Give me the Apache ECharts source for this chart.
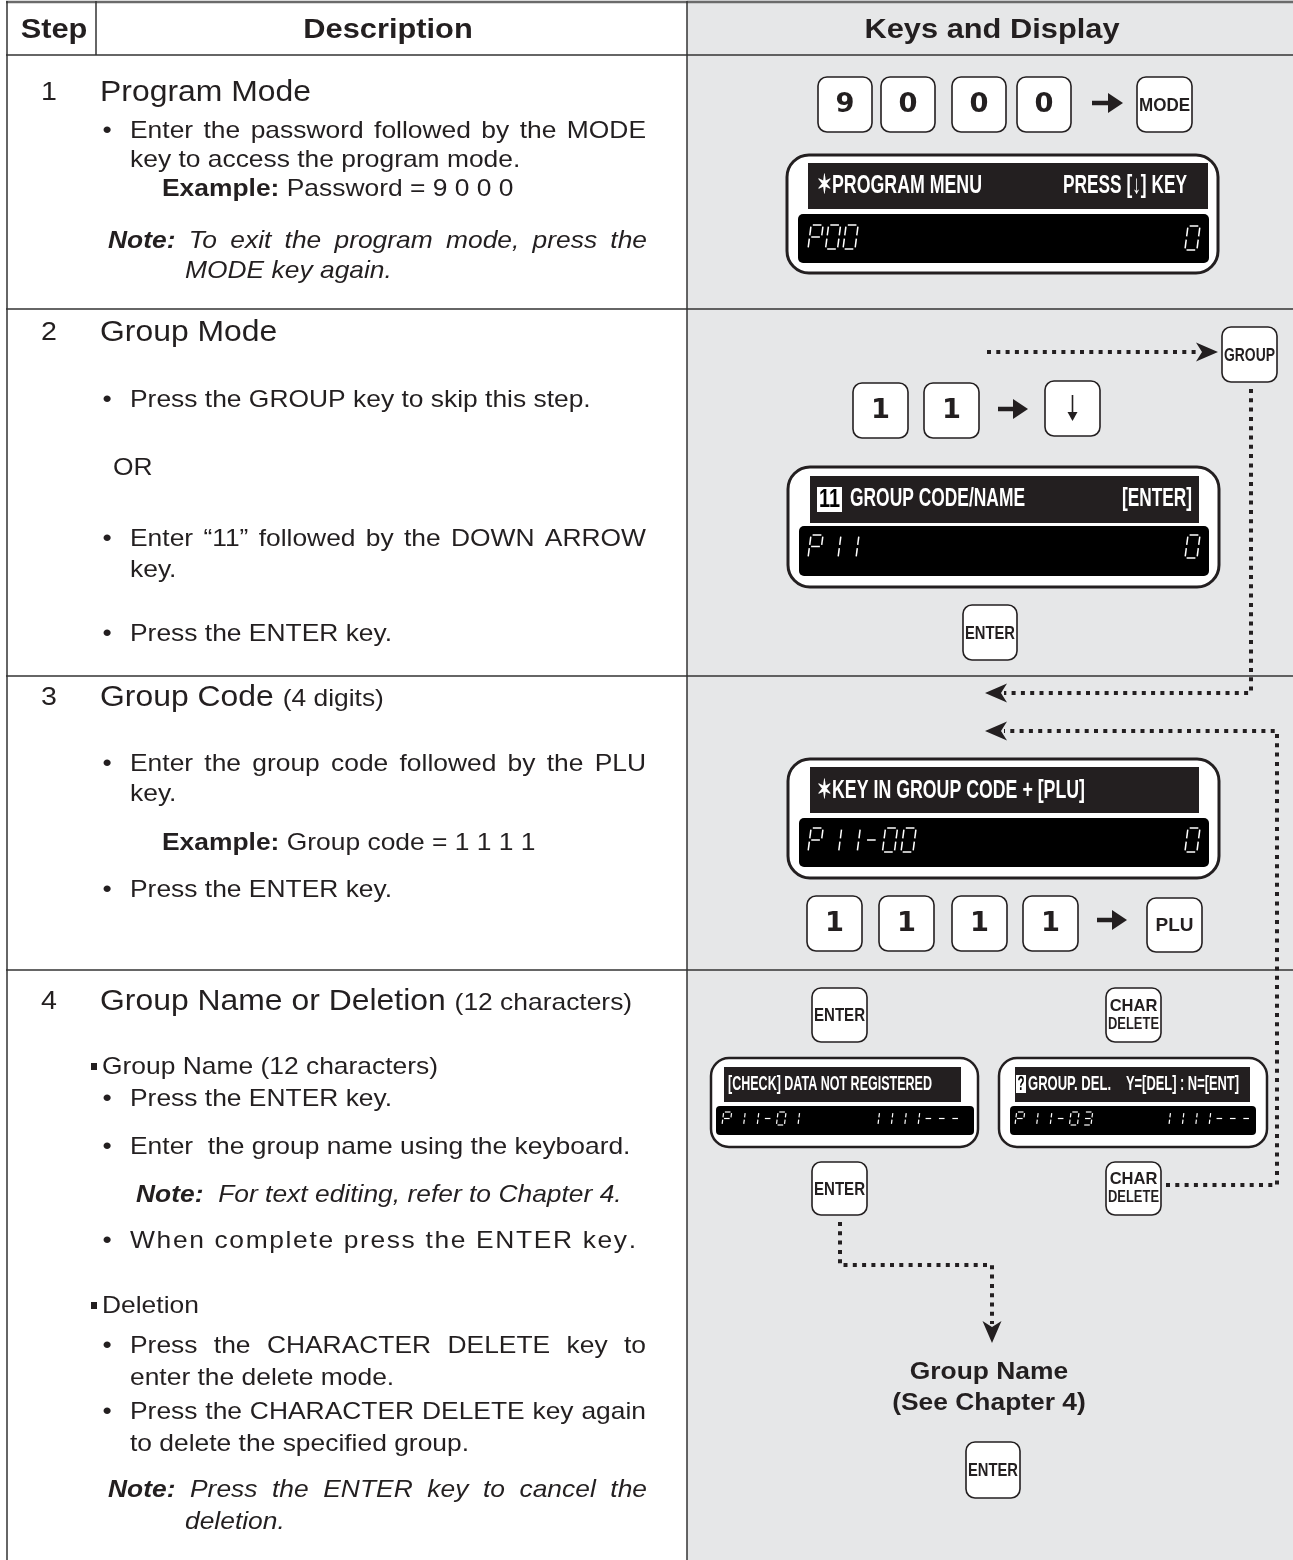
<!DOCTYPE html>
<html><head><meta charset="utf-8">
<script src="https://cdn.jsdelivr.net/npm/echarts@6/dist/echarts.min.js"></script>
<style>html,body{margin:0;padding:0;background:#fff}#c{width:1293px;height:1560px}</style>
</head><body><div id="c"></div>
<script>
// ---------------- DATA (text content) ----------------
const headers = ['Step', 'Description', 'Keys and Display'];
const stepNumbers = ['1', '2', '3', '4'];
const stepTitles = ['Program Mode', 'Group Mode', 'Group Code', 'Group Name or Deletion'];
const stepTitleNotes = ['', '', '(4 digits)', '(12 characters)'];
const step1Desc = ['Enter the password followed by the MODE', 'key to access the program mode.', 'Example:|Password = 9 0 0 0', 'Note:|To exit the program mode, press the', 'MODE key again.'];
const step2Desc = ['Press the GROUP key to skip this step.', 'OR', 'Enter \u201c11\u201d followed by the DOWN ARROW', 'key.', 'Press the ENTER key.'];
const step3Desc = ['Enter the group code followed by the PLU', 'key.', 'Example:|Group code = 1 1 1 1', 'Press the ENTER key.'];
const step4Desc = ['Group Name (12 characters)', 'Press the ENTER key.', 'Enter  the group name using the keyboard.', 'Note:|For text editing, refer to Chapter 4.', 'When complete press the ENTER key.', 'Deletion', 'Press the CHARACTER DELETE key to', 'enter the delete mode.', 'Press the CHARACTER DELETE key again', 'to delete the specified group.', 'Note:|Press the ENTER key to cancel the', 'deletion.'];

const keysStep1 = ['9', '0', '0', '0', 'MODE'];
const display1Top = ['\u2736PROGRAM MENU', 'PRESS [\u2193] KEY'];
const display1Seg = ['P00', '0'];
const keyStep2Skip = 'GROUP';
const keysStep2 = ['1', '1', '\u2193'];
const display2Top = ['11', 'GROUP CODE/NAME', '[ENTER]'];
const display2Seg = ['P11', '0'];
const keyStep2Enter = 'ENTER';
const display3Top = ['\u2736KEY IN GROUP CODE + [PLU]'];
const display3Seg = ['P11-00', '0'];
const keysStep3 = ['1', '1', '1', '1', 'PLU'];
const keysStep4 = ['ENTER', 'CHAR\nDELETE', 'ENTER', 'CHAR\nDELETE', 'ENTER'];
const display4aTop = ['[CHECK] DATA NOT REGISTERED'];
const display4aSeg = ['P11-01', '1111---'];
const display4bTop = ['?', 'GROUP. DEL.', 'Y=[DEL] : N=[ENT]'];
const display4bSeg = ['P11-03', '1111---'];
const groupNameLabel = ['Group Name', '(See Chapter 4)'];

// ---------------- LAYOUT / DRAWING ----------------
const INK = '#231f20';
const GRAY = '#e6e7e8';
const BODY = '"Liberation Sans", Arial, Helvetica, sans-serif';
const SX = 1.1;
const els = [];
const cv = document.createElement('canvas').getContext('2d');
function measure(t, size, weight, style, fam) {
  cv.font = (style || 'normal') + ' ' + (weight || 'normal') + ' ' + size + 'px ' + (fam || BODY);
  return cv.measureText(t).width;
}
function T(t, x, y, o) {
  o = o || {};
  const al = o.align || 'left';
  els.push({
    type: 'text', x: x, y: y, scaleX: o.sx || 1, silent: true, z: o.z || 10,
    style: { text: t, x: 0, y: 0, fill: o.fill || INK, fontSize: o.size || 24,
      fontFamily: o.fam || BODY, fontWeight: o.weight || 'normal', fontStyle: o.style || 'normal',
      textAlign: al, align: al, textVerticalAlign: 'middle', verticalAlign: 'middle' }
  });
}
function fit(t, x1, x2, y, o) {
  o = Object.assign({ size: 26, weight: 'bold' }, o || {});
  const w = measure(t, o.size, o.weight, o.style, o.fam);
  o.sx = (x2 - x1) / w;
  T(t, x1, y, o);
}
function rect(x, y, w, h, o) {
  els.push({ type: 'rect', silent: true, z: o.z || 1, shape: { x: x, y: y, width: w, height: h, r: o.r || 0 },
    style: { fill: o.fill || 'none', stroke: o.stroke || null, lineWidth: o.lw || 0 } });
}
function ln(x1, y1, x2, y2, o) {
  els.push({ type: 'line', silent: true, z: o.z || 2, shape: { x1: x1, y1: y1, x2: x2, y2: y2 },
    style: { stroke: o.stroke || INK, lineWidth: o.lw || 1.5 } });
}
function poly(points, o) {
  els.push({ type: 'polygon', silent: true, z: (o && o.z) || 6, shape: { points: points }, style: { fill: (o && o.fill) || INK } });
}
function pline(points, o) {
  els.push({ type: 'polyline', silent: true, z: o.z || 5, shape: { points: points },
    style: { stroke: o.stroke || INK, lineWidth: o.lw || 4, lineDash: o.dash || null, fill: null } });
}

// table
rect(687, 0, 606, 1560, { fill: GRAY, z: 0 });
ln(6, 2, 1293, 2, { stroke: '#6b6b6b', lw: 2.5 });
[55, 309, 676, 970].forEach(y => ln(6, y, 1293, y, { stroke: '#333', lw: 1.5 }));
ln(7, 1, 7, 1560, { stroke: '#333', lw: 1.5 });
ln(96, 1, 96, 55, { stroke: '#333', lw: 1.5 });
ln(687, 1, 687, 1560, { stroke: '#333', lw: 1.5 });

// headers
const headerX = [54, 388, 992];
headers.forEach((h, i) => T(h, headerX[i], 30, { size: 28, weight: 'bold', align: 'center', sx: SX }));

// step numbers & titles
const titleY = [93, 333, 698, 1002];
stepNumbers.forEach((s, i) => T(s, 49, titleY[i], { size: 26, align: 'center', sx: SX }));
stepTitles.forEach((s, i) => {
  T(s, 100, titleY[i], { size: 29, sx: SX });
  if (stepTitleNotes[i]) {
    const w = measure(s + ' ', 29) * SX;
    T(stepTitleNotes[i], 100 + w, titleY[i] + 1, { size: 24, sx: SX });
  }
});

function runs(parts, x, y, justifyTo, mode) {
  if (!justifyTo) {
    let cx = x;
    parts.forEach(p => {
      T(p.t, cx, y, { weight: p.weight, style: p.style, sx: SX });
      cx += measure(p.t, 24, p.weight, p.style) * SX;
    });
  } else if (mode === 'chars') {
    const chars = [];
    parts.forEach(p => [...p.t].forEach(c => chars.push({ t: c, weight: p.weight, style: p.style })));
    const widths = chars.map(c => measure(c.t, 24, c.weight, c.style) * SX);
    const total = widths.reduce((a, b) => a + b, 0);
    const gap = (justifyTo - x - total) / (chars.length - 1);
    let cx = x;
    chars.forEach((c, i) => { if (c.t !== ' ') T(c.t, cx, y, { weight: c.weight, style: c.style, sx: SX }); cx += widths[i] + gap; });
  } else {
    const words = [];
    parts.forEach(p => p.t.split(/\s+/).filter(Boolean).forEach(w => words.push({ t: w, weight: p.weight, style: p.style })));
    const widths = words.map(w => measure(w.t, 24, w.weight, w.style) * SX);
    const total = widths.reduce((a, b) => a + b, 0);
    const gap = (justifyTo - x - total) / (words.length - 1);
    let cx = x;
    words.forEach((w, i) => { T(w.t, cx, y, { weight: w.weight, style: w.style, sx: SX }); cx += widths[i] + gap; });
  }
}
function descLine(text, kind, y, just, mode) {
  const sp = text.split('|');
  const J = just || 0;
  if (kind === 'bullet') { T('\u2022', 107, y, { align: 'center', sx: SX }); runs([{ t: text }], 130, y, J, mode); }
  else if (kind === 'cont') runs([{ t: text }], 130, y, J);
  else if (kind === 'or') runs([{ t: text }], 113, y, 0);
  else if (kind === 'example') runs([{ t: sp[0], weight: 'bold' }, { t: ' ' + sp[1] }], 162, y, 0);
  else if (kind === 'note') runs([{ t: sp[0], weight: 'bold', style: 'italic' }, { t: ' ' + sp[1], style: 'italic' }], 108, y, J);
  else if (kind === 'note4') runs([{ t: sp[0], weight: 'bold', style: 'italic' }, { t: '  ' + sp[1], style: 'italic' }], 136, y, 0);
  else if (kind === 'noteCont') runs([{ t: text, style: 'italic' }], 185, y, 0);
  else if (kind === 'square') { rect(91, y - 4, 6, 7, { fill: INK, z: 6 }); runs([{ t: text }], 102, y, 0); }
}
const lay1 = [['bullet', 131, 646], ['cont', 160], ['example', 189], ['note', 241, 647], ['noteCont', 271]];
const lay2 = [['bullet', 400], ['or', 468], ['bullet', 539, 646], ['cont', 570], ['bullet', 634]];
const lay3 = [['bullet', 764, 646], ['cont', 794], ['example', 843], ['bullet', 890]];
const lay4 = [['square', 1067], ['bullet', 1099], ['bullet', 1147], ['note4', 1195], ['bullet', 1241, 636, 'chars'], ['square', 1306],
  ['bullet', 1346, 646], ['cont', 1378], ['bullet', 1412, 646], ['cont', 1444], ['note', 1490, 647], ['noteCont', 1522]];
[[step1Desc, lay1], [step2Desc, lay2], [step3Desc, lay3], [step4Desc, lay4]].forEach(([d, l]) => {
  d.forEach((t, i) => descLine(t, l[i][0], l[i][1], l[i][2], l[i][3]));
});

// ---------- keys ----------
function key(label, x, y, w, h) {
  rect(x, y, w, h, { r: 9, fill: '#fff', stroke: INK, lw: 1.6, z: 4 });
  const cx = x + w / 2, cy = y + h / 2;
  if (/^[0-9]$/.test(label)) {
    T(label, cx, cy + 1, { size: 26, weight: 'bold', fam: '"DejaVu Sans", sans-serif', align: 'center', sx: 1.05, z: 7 });
  } else if (label === '\u2193') {
    ln(cx, y + 14, cx, y + h - 20, { lw: 1.6, z: 7 });
    poly([[cx - 5, y + h - 24], [cx + 5, y + h - 24], [cx, y + h - 15]], { z: 7 });
  } else {
    const lines = label.split('\n');
    const size = lines.length > 1 ? 16.5 : 19;
    lines.forEach((s, i) => {
      const nat = measure(s, size, 'bold');
      const sx = Math.min(1, (w - 4) / nat);
      const yy = lines.length > 1 ? cy + (i - 0.5) * 18 : cy + 1;
      T(s, cx, yy, { size: size, weight: 'bold', align: 'center', sx: sx, z: 7 });
    });
  }
}
function arrow(x1, x2, y) {
  ln(x1, y, x2 - 12, y, { lw: 4.5, z: 6 });
  poly([[x2 - 15, y - 10], [x2, y], [x2 - 15, y + 10]]);
}
function dart(tx, ty, dir) {
  const L = 22, N = 16, H = 9.5;
  if (dir === 'right') poly([[tx, ty], [tx - L, ty - H], [tx - N, ty], [tx - L, ty + H]]);
  if (dir === 'left') poly([[tx, ty], [tx + L, ty - H], [tx + N, ty], [tx + L, ty + H]]);
  if (dir === 'down') poly([[tx, ty], [tx - H, ty - L], [tx, ty - N], [tx + H, ty - L]]);
}
const DOT = { lw: 4, dash: [4, 5.3], z: 3 };

// step 1
const k1x = [818, 881, 952, 1017];
keysStep1.slice(0, 4).forEach((k, i) => key(k, k1x[i], 77, 54, 55));
arrow(1092, 1123, 103);
key(keysStep1[4], 1137, 77, 55, 55);

// 7-seg
const SEGS = { '0': 'abcdef', '1': 'bc', '3': 'abcdg', 'P': 'abefg', '-': 'g' };
function seg7(str, x0, yTop, h, w, pitch, lw) {
  const sl = h * 0.13, g = Math.max(1.2, h * 0.07);
  const yb = yTop + h, ym = yTop + h / 2;
  const P = (xx, yy) => [xx + (yb - yy) / h * sl, yy];
  [...str].forEach((ch, i) => {
    const s = SEGS[ch]; if (!s) return;
    const x = x0 + i * pitch;
    const d = { a: [[x + g, yTop], [x + w - g, yTop]], b: [[x + w, yTop + g], [x + w, ym - g]], c: [[x + w, ym + g], [x + w, yb - g]],
      d: [[x + g, yb], [x + w - g, yb]], e: [[x, ym + g], [x, yb - g]], f: [[x, yTop + g], [x, ym - g]], g: [[x + g, ym], [x + w - g, ym]] };
    for (const k of s) pline([P(d[k][0][0], d[k][0][1]), P(d[k][1][0], d[k][1][1])], { stroke: '#fff', lw: lw, z: 8 });
  });
}
function seg7R(str, xr, yTop, h, w, pitch, lw) {
  seg7(str, xr - h * 0.13 - w - (str.length - 1) * pitch, yTop, h, w, pitch, lw);
}
function bigDisplay(o) {
  rect(o.x, o.y, o.w, o.h, { r: 22, fill: '#fff', stroke: INK, lw: 3, z: 3 });
  rect(o.tx1, o.ty1, o.tx2 - o.tx1, o.ty2 - o.ty1, { fill: INK, z: 4 });
  rect(o.bx1, o.by1, o.bx2 - o.bx1, o.by2 - o.by1, { r: 5, fill: '#000', z: 4 });
}
// display 1
bigDisplay({ x: 787, y: 155, w: 431, h: 118, tx1: 808, ty1: 163, tx2: 1208, ty2: 209, bx1: 798, by1: 214, bx2: 1209, by2: 263 });
fit(display1Top[0], 817, 982, 186, { fill: '#fff', z: 9 });
fit(display1Top[1], 1063, 1187, 186, { fill: '#fff', z: 9 });
seg7(display1Seg[0], 808, 225, 24, 12, 17.5, 1.5);
seg7R(display1Seg[1], 1200, 226, 24, 12, 17.5, 1.5);

// step 2
key(keyStep2Skip, 1222, 327, 55, 55);
pline([[987, 352], [1200, 352]], DOT);
dart(1218, 352, 'right');
pline([[1251, 389], [1251, 693], [1004, 693]], DOT);
dart(985, 693, 'left');
key(keysStep2[0], 853, 383, 55, 55);
key(keysStep2[1], 924, 383, 55, 55);
arrow(998, 1028, 409);
key(keysStep2[2], 1045, 381, 55, 55);
bigDisplay({ x: 788, y: 467, w: 431, h: 120, tx1: 810, ty1: 476, tx2: 1199, ty2: 523, bx1: 799, by1: 526, bx2: 1209, by2: 576 });
rect(817, 487, 25, 25, { fill: '#fff', z: 8 });
fit(display2Top[0], 819, 840, 500, { fill: '#000', z: 9 });
fit(display2Top[1], 850, 1025, 499, { fill: '#fff', z: 9 });
fit(display2Top[2], 1122, 1192, 499, { fill: '#fff', z: 9 });
seg7(display2Seg[0], 808, 535, 23, 12, 18, 1.5);
seg7R(display2Seg[1], 1200, 535, 23, 12, 18, 1.5);
key(keyStep2Enter, 963, 605, 54, 55);

// step 3
pline([[1166, 1185], [1277, 1185], [1277, 731], [1004, 731]], DOT);
dart(985, 731, 'left');
bigDisplay({ x: 788, y: 759, w: 431, h: 119, tx1: 810, ty1: 767, tx2: 1199, ty2: 813, bx1: 799, by1: 818, bx2: 1209, by2: 867 });
fit(display3Top[0], 817, 1085, 791, { fill: '#fff', z: 9 });
seg7(display3Seg[0], 808, 828, 24, 12, 18.6, 1.5);
seg7R(display3Seg[1], 1200, 828, 24, 12, 18.6, 1.5);
const k3x = [807, 879, 952, 1023];
keysStep3.slice(0, 4).forEach((k, i) => key(k, k3x[i], 896, 55, 55));
arrow(1097, 1127, 920);
key(keysStep3[4], 1147, 898, 55, 54);

// step 4
key(keysStep4[0], 812, 988, 55, 54);
key(keysStep4[1], 1106, 988, 55, 54);
key(keysStep4[2], 812, 1162, 55, 53);
key(keysStep4[3], 1106, 1162, 55, 53);
function smallDisplay(o) {
  rect(o.x, o.y, o.w, o.h, { r: 18, fill: '#fff', stroke: INK, lw: 2.5, z: 3 });
  rect(o.tx1, o.ty1, o.tx2 - o.tx1, o.ty2 - o.ty1, { fill: INK, z: 4 });
  rect(o.bx1, o.by1, o.bx2 - o.bx1, o.by2 - o.by1, { r: 4, fill: '#000', z: 4 });
}
smallDisplay({ x: 711, y: 1058, w: 267, h: 89, tx1: 724, ty1: 1067, tx2: 961, ty2: 1102, bx1: 716, by1: 1106, bx2: 974, by2: 1135 });
fit(display4aTop[0], 728, 932, 1084, { size: 20, fill: '#fff', z: 9 });
seg7(display4aSeg[0], 722, 1112, 13, 8, 13.6, 1.2);
seg7R(display4aSeg[1], 960, 1112, 13, 8, 13.4, 1.2);
smallDisplay({ x: 999, y: 1058, w: 268, h: 89, tx1: 1015, ty1: 1067, tx2: 1250, ty2: 1102, bx1: 1010, by1: 1106, bx2: 1256, by2: 1135 });
rect(1016, 1075, 10, 18, { fill: '#fff', z: 8 });
fit(display4bTop[0], 1017.5, 1024.5, 1084, { size: 20, fill: '#000', z: 9 });
fit(display4bTop[1], 1028, 1111, 1084, { size: 20, fill: '#fff', z: 9 });
fit(display4bTop[2], 1126, 1239, 1084, { size: 20, fill: '#fff', z: 9 });
seg7(display4bSeg[0], 1015, 1112, 13, 8, 13.6, 1.2);
seg7R(display4bSeg[1], 1251, 1112, 13, 8, 13.4, 1.2);

pline([[840, 1222], [840, 1265], [992, 1265], [992, 1324]], DOT);
dart(992, 1343, 'down');
T(groupNameLabel[0], 989, 1372, { size: 24, weight: 'bold', align: 'center', sx: SX });
T(groupNameLabel[1], 989, 1403, { size: 24, weight: 'bold', align: 'center', sx: SX });
key(keysStep4[4], 966, 1442, 54, 56);

const chart = echarts.init(document.getElementById('c'), null, { renderer: 'canvas' });
chart.setOption({ animation: false, graphic: { elements: els } });
</script></body></html>
